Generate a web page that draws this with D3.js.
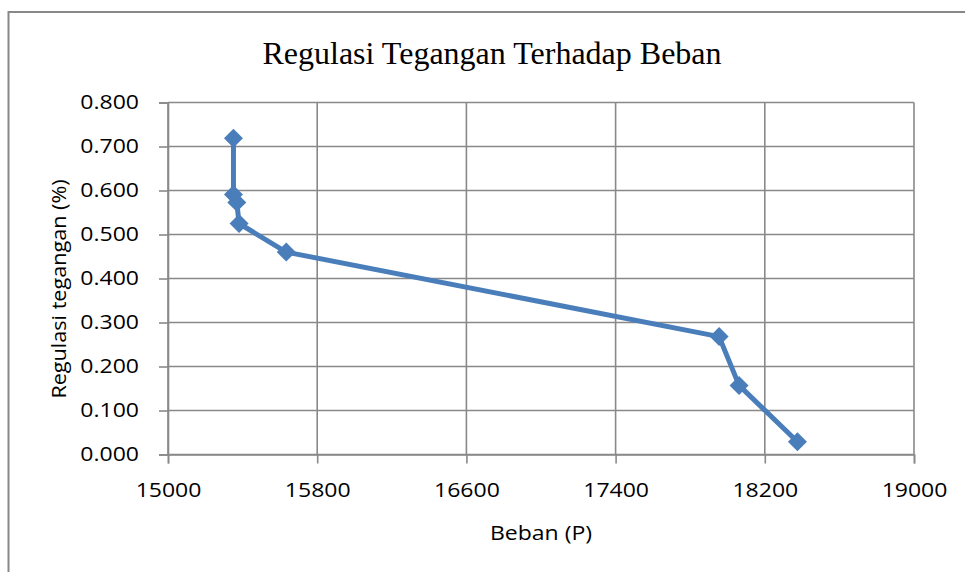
<!DOCTYPE html>
<html>
<head>
<meta charset="utf-8">
<script src="https://cdn.jsdelivr.net/npm/d3@7"></script>
<style>
  body { margin: 0; background: #fff; }
  svg { display: block; }
</style>
</head>
<body>
<div id="chart"></div>
<script>
// data
var beban = [15351, 15351, 15369, 15381, 15634, 17955, 18062, 18375];
var regulasi = [0.719, 0.591, 0.573, 0.525, 0.460, 0.268, 0.157, 0.029];
var xTicks = [15000, 15800, 16600, 17400, 18200, 19000];
var yTicks = [0, 0.1, 0.2, 0.3, 0.4, 0.5, 0.6, 0.7, 0.8];

var W = 965, H = 572;
var plot = {left: 168, right: 914, top: 102.5, bottom: 454.5};
var sans = "'Open Sans', 'Liberation Sans', sans-serif";

// the original text is a bit wider than Open Sans, stretch it
function widen(sel, k) {
  sel.each(function() {
    var w = this.getComputedTextLength();
    d3.select(this)
      .attr("textLength", w * k)
      .attr("lengthAdjust", "spacingAndGlyphs");
  });
}

var svg = d3.select("#chart").append("svg")
    .attr("width", W)
    .attr("height", H);

// outer chart border
svg.append("rect")
    .attr("x", 8.5).attr("y", 12)
    .attr("width", W + 20).attr("height", H + 20)
    .attr("fill", "#fff")
    .attr("stroke", "#888")
    .attr("stroke-width", 2);

var x = d3.scaleLinear().domain([15000, 19000]).range([plot.left, plot.right]);
var y = d3.scaleLinear().domain([0, 0.8]).range([plot.bottom, plot.top]);

// gridlines
svg.append("g").selectAll("line")
    .data(yTicks)
  .enter().append("line")
    .attr("x1", plot.left).attr("x2", plot.right)
    .attr("y1", function(d) { return y(d); })
    .attr("y2", function(d) { return y(d); })
    .attr("stroke", "#898989").attr("stroke-width", 1.6);

svg.append("g").selectAll("line")
    .data(xTicks)
  .enter().append("line")
    .attr("x1", function(d) { return x(d); })
    .attr("x2", function(d) { return x(d); })
    .attr("y1", plot.top).attr("y2", plot.bottom)
    .attr("stroke", "#898989").attr("stroke-width", 1.6);

// axes
var xAxis = d3.axisBottom(x).tickValues(xTicks).tickSize(9).tickPadding(19)
    .tickFormat(d3.format("d"));
var yAxis = d3.axisLeft(y).tickValues(yTicks).tickSize(9).tickPadding(20)
    .tickFormat(d3.format(".3f"));

var gx = svg.append("g")
    .attr("transform", "translate(0," + plot.bottom + ")")
    .call(xAxis);
var gy = svg.append("g")
    .attr("transform", "translate(" + plot.left + ",0)")
    .call(yAxis);

[gx, gy].forEach(function(g) {
  g.select(".domain").attr("stroke", "#898989").attr("stroke-width", 1.6);
  g.selectAll(".tick line").attr("stroke", "#898989").attr("stroke-width", 1.6);
  g.selectAll(".tick text")
      .attr("fill", "#000")
      .style("font-family", sans)
      .style("font-size", "20px")
      .call(widen, 1.15);
});

// line + diamonds
var line = d3.line()
    .x(function(d, i) { return x(beban[i]); })
    .y(function(d, i) { return y(regulasi[i]); });

svg.append("path")
    .datum(regulasi)
    .attr("d", line)
    .attr("fill", "none")
    .attr("stroke", "#4a7ebb")
    .attr("stroke-width", 5)
    .attr("stroke-linejoin", "round");

svg.selectAll(".dot")
    .data(regulasi)
  .enter().append("path")
    .attr("class", "dot")
    .attr("d", d3.symbol().type(d3.symbolSquare).size(180))
    .attr("transform", function(d, i) {
      return "translate(" + x(beban[i]) + "," + y(d) + ") rotate(45)";
    })
    .attr("fill", "#4a7ebb");

// title and axis labels
svg.append("text")
    .attr("x", 492).attr("y", 64)
    .attr("text-anchor", "middle")
    .style("font-family", "'Liberation Serif', 'Times New Roman', serif")
    .style("font-size", "32px")
    .text("Regulasi Tegangan Terhadap Beban");

svg.append("text")
    .attr("x", 541).attr("y", 540)
    .attr("text-anchor", "middle")
    .style("font-family", sans)
    .style("font-size", "20px")
    .text("Beban (P)")
    .call(widen, 1.15);

svg.append("text")
    .attr("transform", "translate(66,289) rotate(-90)")
    .attr("text-anchor", "middle")
    .style("font-family", sans)
    .style("font-size", "20px")
    .text("Regulasi tegangan (%)")
    .call(widen, 1.08);
</script>
</body>
</html>
